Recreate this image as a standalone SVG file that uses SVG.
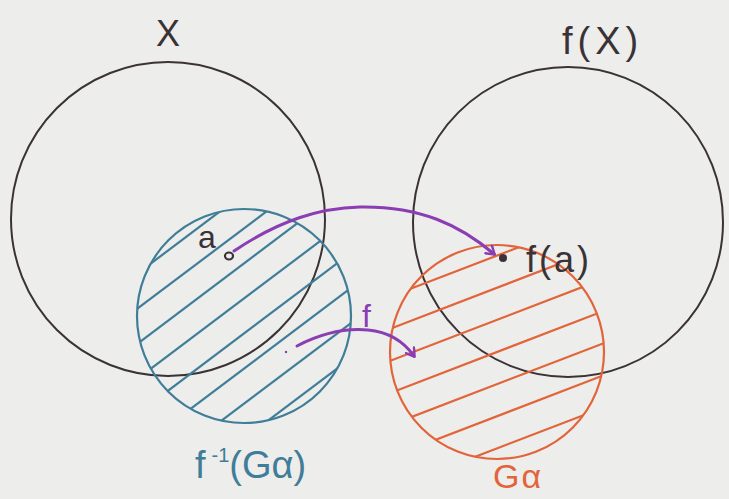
<svg xmlns="http://www.w3.org/2000/svg" width="729" height="499" viewBox="0 0 729 499">
<style>
.set{fill:none;stroke:#3a3236;stroke-width:2}
.blue{fill:none;stroke:#3f7d98;stroke-width:2.2}
.orange{fill:none;stroke:#e2643a;stroke-width:2.2}
.arr{fill:none;stroke:#8b3db3;stroke-width:3;stroke-linecap:round}
.t{font-family:"Liberation Sans","DejaVu Sans",sans-serif;font-weight:normal}
</style>
<defs>
<marker id="head" markerWidth="12" markerHeight="12" refX="9" refY="6" orient="auto" markerUnits="userSpaceOnUse">
<path d="M2,1 L10,6 L2,11" fill="none" stroke="#8b3db3" stroke-width="2.4" stroke-linecap="round" stroke-linejoin="round"/>
</marker>
<clipPath id="cb"><circle cx="244" cy="316" r="107"/></clipPath>
<clipPath id="co"><circle cx="497" cy="352" r="107"/></clipPath>
</defs>
<rect width="729" height="499" fill="#ededeb"/>
<g id="setX">
<circle class="set" cx="168" cy="219" r="157"/>
<text class="t" x="156" y="46" font-size="36" fill="#3a3236">X</text>
</g>
<g id="setFX">
<circle class="set" cx="568" cy="222" r="155"/>
<text class="t" x="562" y="54" font-size="38" letter-spacing="5" fill="#3a3236">f(X)</text>
</g>
<g id="preimage">
<g clip-path="url(#cb)" stroke="#3f7d98" stroke-width="2.2">
<g transform="rotate(-37 244 316)">
<line x1="100" y1="218" x2="390" y2="218"/>
<line x1="100" y1="246" x2="390" y2="246"/>
<line x1="100" y1="274" x2="390" y2="274"/>
<line x1="100" y1="302" x2="390" y2="302"/>
<line x1="100" y1="330" x2="390" y2="330"/>
<line x1="100" y1="358" x2="390" y2="358"/>
<line x1="100" y1="386" x2="390" y2="386"/>
<line x1="100" y1="414" x2="390" y2="414"/>
</g>
</g>
<circle class="blue" cx="244" cy="316" r="107"/>
<text class="t" x="195" y="478" font-size="38" fill="#3f7d98">f<tspan font-size="20" dx="6" dy="-16">-1</tspan><tspan dy="16">(Gα)</tspan></text>
</g>
<g id="openSet">
<g clip-path="url(#co)" stroke="#e2643a" stroke-width="2.2">
<g transform="rotate(-21 497 352)">
<line x1="370" y1="262" x2="630" y2="262"/>
<line x1="370" y1="292" x2="630" y2="292"/>
<line x1="370" y1="322" x2="630" y2="322"/>
<line x1="370" y1="352" x2="630" y2="352"/>
<line x1="370" y1="382" x2="630" y2="382"/>
<line x1="370" y1="412" x2="630" y2="412"/>
<line x1="370" y1="442" x2="630" y2="442"/>
</g>
</g>
<circle class="orange" cx="497" cy="352" r="107"/>
<text class="t" x="493" y="488" font-size="34" letter-spacing="2" fill="#e2643a">Gα</text>
</g>
<g id="pointA">
<ellipse cx="229" cy="256" rx="4" ry="3.5" fill="none" stroke="#3a3236" stroke-width="2.2"/>
<text class="t" x="198" y="248" font-size="32" fill="#3a3236">a</text>
</g>
<g id="pointFA">
<circle cx="503" cy="258" r="4" fill="#3a3236"/>
<text class="t" x="526" y="272" font-size="36" letter-spacing="3" fill="#3a3236">f(a)</text>
</g>
<g id="connectors">
<path class="arr" d="M234,251 C280,220 320,208 360,207 C420,206 460,225 494,254" marker-end="url(#head)"/>
<path class="arr" d="M297,346 C320,334 345,328 368,330 C390,332 404,342 414,356" marker-end="url(#head)"/>
<circle cx="286" cy="352" r="1.2" fill="#8b3db3"/>
<text class="t" x="362" y="327" font-size="32" fill="#8b3db3">f</text>
</g>
</svg>
